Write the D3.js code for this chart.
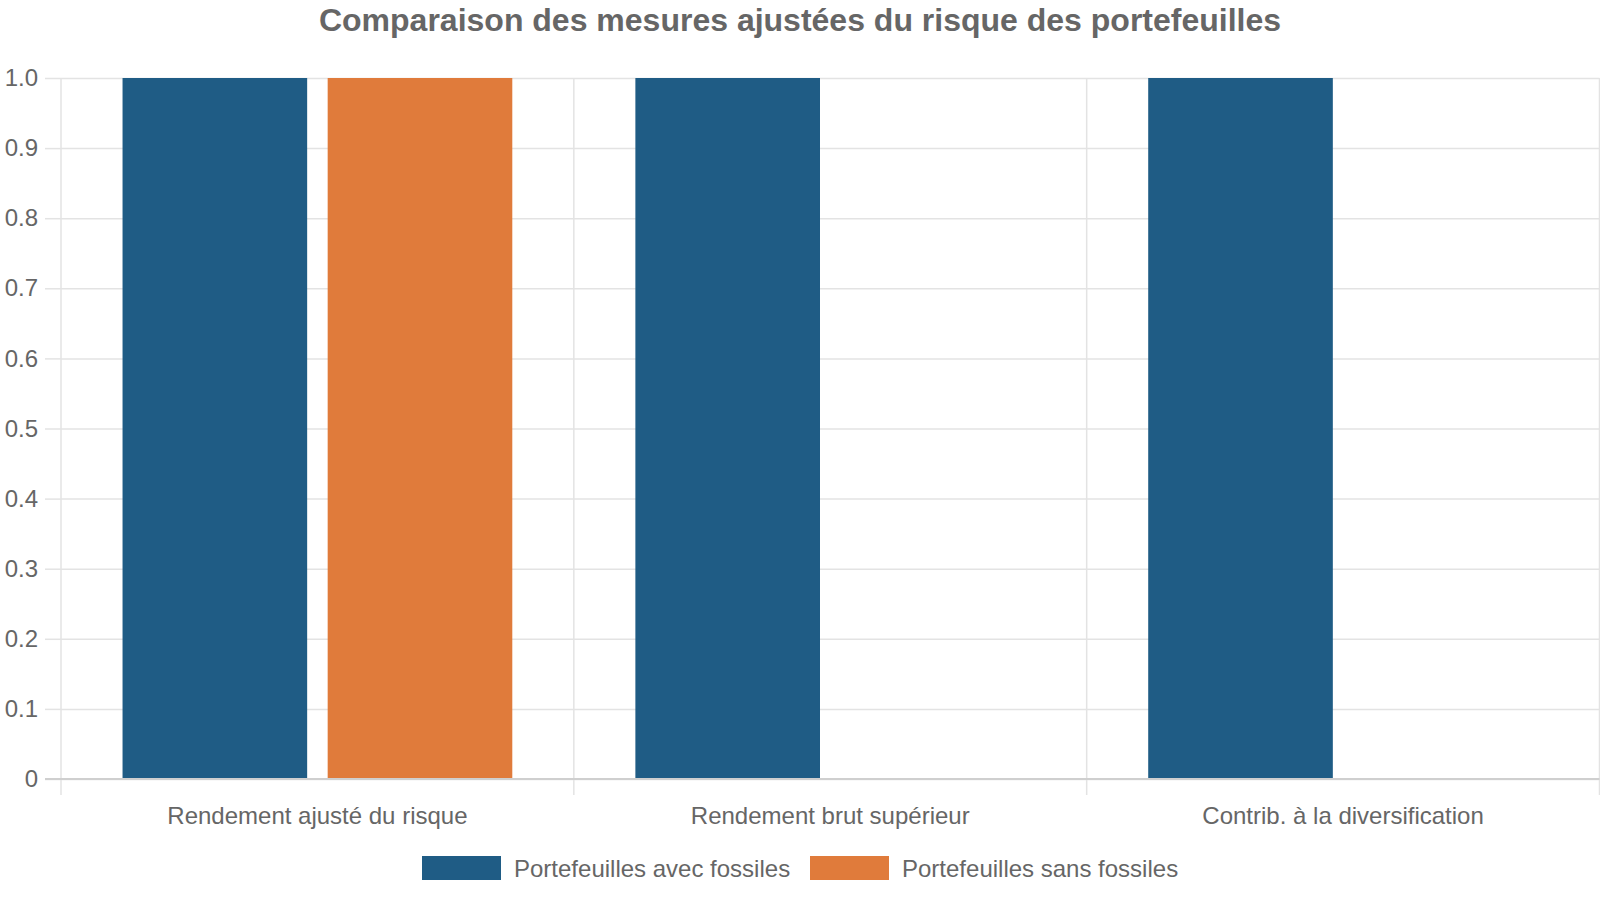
<!DOCTYPE html>
<html>
<head>
<meta charset="utf-8">
<script src="https://cdn.jsdelivr.net/npm/d3@7"></script>
<style>
  body { margin: 0; background: #fff; }
  text { font-family: "Liberation Sans", Arial, sans-serif; fill: #666; }
</style>
</head>
<body>
<div class="chart"></div>
<script>
const categories = ["Rendement ajusté du risque", "Rendement brut supérieur", "Contrib. à la diversification"]
const seriesNames = ["Portefeuilles avec fossiles", "Portefeuilles sans fossiles"]
const avecFossiles = [1, 1, 1]
const sansFossiles = [1, 0, 0]
const yTicks = [0, 0.1, 0.2, 0.3, 0.4, 0.5, 0.6, 0.7, 0.8, 0.9, 1.0]
const colors = ["#1f5c85", "#e07b3b"]

const W = 1600, H = 900
const margin = ({top: 78, right: 0.5, bottom: 121, left: 61})
const width = W - margin.left - margin.right,
  height = H - margin.top - margin.bottom

const data = categories.map((c, i) => ({cat: c, values: [avecFossiles[i], sansFossiles[i]]}))

const svg = d3.select(".chart").append("svg")
  .attr("width", W)
  .attr("height", H)

const g = svg.append("g")
  .attr("transform", `translate(${margin.left},${margin.top})`)

const x0 = d3.scaleBand().domain(categories).range([0, width]).padding(0)
const bw = x0.bandwidth()
const x1 = d3.scaleBand().domain(seriesNames)
  .range([bw * 0.1, bw * 0.9])
  .paddingInner(0.1).paddingOuter(0.05)

const yScale = d3.scaleLinear().domain([0, 1]).range([height, 0])

// horizontal grid
g.append("g")
  .attr("class", "y-grid")
  .call(d3.axisLeft(yScale).tickValues(yTicks).tickSize(-width).tickFormat(""))
  .call(s => s.select(".domain").remove())
  .call(s => s.selectAll("line").attr("stroke", "#e3e3e3").attr("stroke-width", 1.5))

// vertical grid lines between categories
const vlines = [0, ...categories.map(c => x0(c) + bw)]
g.append("g")
  .selectAll("line")
  .data(vlines)
  .enter()
  .append("line")
  .attr("x1", d => d).attr("x2", d => d)
  .attr("y1", 0).attr("y2", height + 16)
  .attr("stroke", "#e3e3e3")
  .attr("stroke-width", 1.5)

// y tick marks + labels
const yAxis = g.append("g")
  .call(d3.axisLeft(yScale).tickValues(yTicks).tickSize(16).tickPadding(7)
    .tickFormat(d => d === 0 ? "0" : d3.format(".1f")(d)))
yAxis.select(".domain").remove()
yAxis.selectAll("line").attr("stroke", "#e3e3e3").attr("stroke-width", 1.5)
yAxis.selectAll("text")
  .attr("font-size", 24)
  .attr("fill", "#666")
  .style("font-family", "Liberation Sans, Arial, sans-serif")

// bars
const groups = g.selectAll(".cat")
  .data(data)
  .enter()
  .append("g")
  .attr("transform", d => `translate(${x0(d.cat)},0)`)

groups.selectAll("rect")
  .data(d => d.values.map((v, i) => ({name: seriesNames[i], value: v, i: i})))
  .enter()
  .append("rect")
  .attr("x", d => x1(d.name))
  .attr("width", x1.bandwidth())
  .attr("y", d => yScale(d.value))
  .attr("height", d => height - yScale(d.value))
  .attr("fill", d => colors[d.i])

// zero axis line
g.append("line")
  .attr("x1", -16).attr("x2", width)
  .attr("y1", height).attr("y2", height)
  .attr("stroke", "#cfcfcf")
  .attr("stroke-width", 2)

// x labels
g.selectAll(".xlabel")
  .data(categories)
  .enter()
  .append("text")
  .attr("x", d => x0(d) + bw / 2)
  .attr("y", height + 45)
  .attr("text-anchor", "middle")
  .attr("font-size", 24)
  .text(d => d)

// title
svg.append("text")
  .attr("x", W / 2)
  .attr("y", 31)
  .attr("text-anchor", "middle")
  .attr("font-size", 32)
  .attr("font-weight", "bold")
  .text("Comparaison des mesures ajustées du risque des portefeuilles")

// legend
const legend = svg.append("g")
const legendX = [422, 810]
seriesNames.forEach((name, i) => {
  legend.append("rect")
    .attr("x", legendX[i]).attr("y", 856)
    .attr("width", 79).attr("height", 24)
    .attr("fill", colors[i])
  legend.append("text")
    .attr("x", legendX[i] + 92).attr("y", 877)
    .attr("font-size", 24)
    .text(name)
})
</script>
</body>
</html>
